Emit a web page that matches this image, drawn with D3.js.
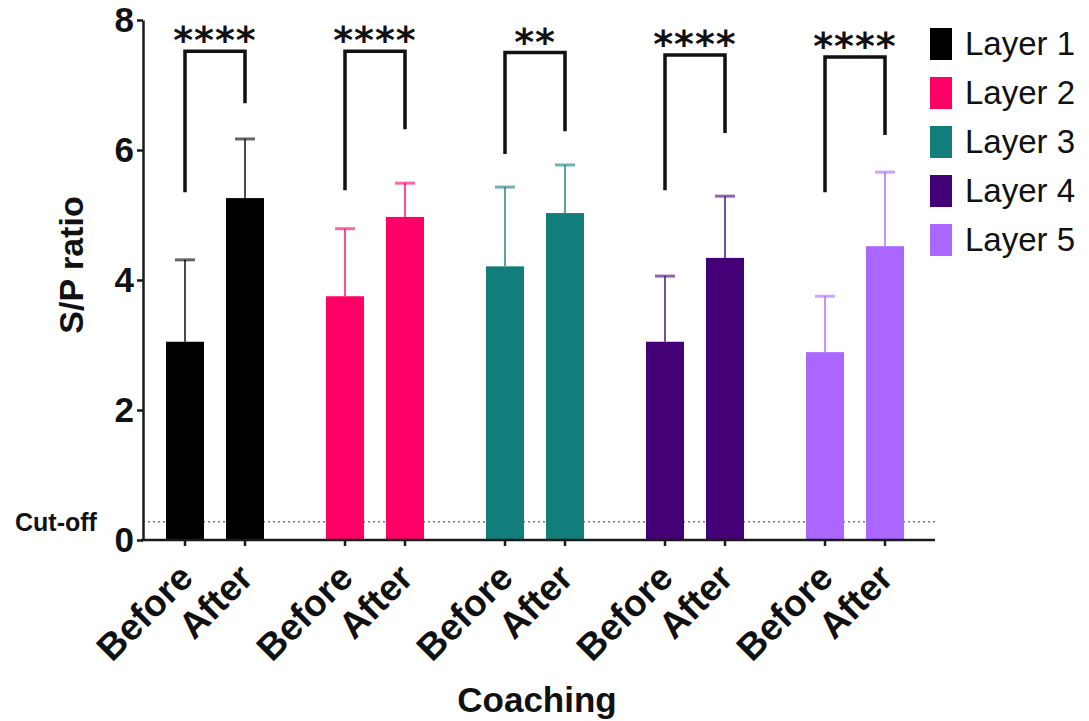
<!DOCTYPE html>
<html>
<head>
<meta charset="utf-8">
<script src="https://cdn.jsdelivr.net/npm/d3@7"></script>
<style>
  html, body { margin: 0; padding: 0; background: #fff; }
  svg { display: block; font-family: "Liberation Sans", Arial, Helvetica, sans-serif; }
</style>
</head>
<body>
<svg id="chart" width="1089" height="721"></svg>
<script>
// Layers and the two coaching phases
const layers = ["Layer 1", "Layer 2", "Layer 3", "Layer 4", "Layer 5"];
const phases = ["Before", "After"];
const layerColors = ["#000000", "#ff0066", "#127e7b", "#440077", "#aa66ff"];

// Mean S/P ratio per layer
const beforeMean = [3.05, 3.75, 4.21, 3.05, 2.89];
const afterMean  = [5.26, 4.97, 5.03, 4.34, 4.52];
// Mean + SD (top of error bar)
const beforeUpper = [4.31, 4.79, 5.43, 4.06, 3.75];
const afterUpper  = [6.17, 5.49, 5.77, 5.29, 5.66];

// Significance brackets (levels in S/P units)
const bracketTop   = [7.52, 7.52, 7.50, 7.46, 7.43];
const bracketLeft  = [5.35, 5.38, 5.94, 5.38, 5.35];
const bracketRight = [6.72, 6.32, 6.29, 6.26, 6.23];
const stars = ["****", "****", "**", "****", "****"];

const cutoff = 0.28;
const yTicks = [0, 2, 4, 6, 8];

const svg = d3.select("#chart");

const x = d3.scaleBand().domain(layers).range([135, 935]).paddingInner(0).paddingOuter(0);
const xInner = d3.scalePoint().domain(phases).range([-30, 30]);
const y = d3.scaleLinear().domain([0, 8]).range([540, 20]);

const barW = 38;
const axisColor = "#1a1a1a";

const bars = [];
layers.forEach((l, i) => {
  bars.push({ layer: l, phase: "Before", i, mean: beforeMean[i], upper: beforeUpper[i] });
  bars.push({ layer: l, phase: "After", i, mean: afterMean[i], upper: afterUpper[i] });
});
const cx = d => x(d.layer) + x.bandwidth() / 2 + xInner(d.phase);

// Cut-off reference line
svg.append("line")
  .attr("x1", 143).attr("x2", 935)
  .attr("y1", y(cutoff)).attr("y2", y(cutoff))
  .attr("stroke", "#777").attr("stroke-width", 1.6)
  .attr("stroke-dasharray", "2,3");

svg.append("text")
  .attr("x", 15).attr("y", y(cutoff) + 9)
  .attr("font-size", 25).attr("font-weight", "bold")
  .attr("fill", "#111")
  .text("Cut-off");

// Error bars (upper only)
const eb = svg.append("g");
eb.selectAll("line.stem").data(bars).join("line")
  .attr("class", "stem")
  .attr("x1", cx).attr("x2", cx)
  .attr("y1", d => y(d.mean)).attr("y2", d => y(d.upper))
  .attr("stroke", d => layerColors[d.i])
  .attr("stroke-opacity", 0.7)
  .attr("stroke-width", 2);
eb.selectAll("line.cap").data(bars).join("line")
  .attr("class", "cap")
  .attr("x1", d => cx(d) - 10).attr("x2", d => cx(d) + 10)
  .attr("y1", d => y(d.upper)).attr("y2", d => y(d.upper))
  .attr("stroke", d => layerColors[d.i])
  .attr("stroke-opacity", 0.6)
  .attr("stroke-width", 3);

// Bars
svg.append("g").selectAll("rect").data(bars).join("rect")
  .attr("x", d => cx(d) - barW / 2)
  .attr("width", barW)
  .attr("y", d => y(d.mean))
  .attr("height", d => y(0) - y(d.mean))
  .attr("fill", d => layerColors[d.i]);

// Y axis
const yAxis = svg.append("g")
  .attr("transform", "translate(143,0)")
  .call(d3.axisLeft(y).tickValues(yTicks).tickSize(6).tickSizeOuter(0).tickPadding(3).tickFormat(d3.format("d")));
yAxis.select(".domain").attr("stroke", axisColor).attr("stroke-width", 2.5);
yAxis.selectAll(".tick line").attr("stroke", axisColor).attr("stroke-width", 2.5);
yAxis.selectAll(".tick text")
  .attr("font-size", 35).attr("font-weight", "bold")
  .attr("font-family", "Liberation Sans, Arial, sans-serif")
  .attr("fill", "#111");

// X axis baseline with ticks at each bar
svg.append("line")
  .attr("x1", 141).attr("x2", 935)
  .attr("y1", y(0)).attr("y2", y(0))
  .attr("stroke", axisColor).attr("stroke-width", 2.5);
svg.append("g").selectAll("line").data(bars).join("line")
  .attr("x1", cx).attr("x2", cx)
  .attr("y1", y(0)).attr("y2", y(0) + 6)
  .attr("stroke", axisColor).attr("stroke-width", 2.5);

// Rotated phase labels
svg.append("g").selectAll("text").data(bars).join("text")
  .attr("transform", d => `translate(${cx(d) + 10},580) rotate(-45)`)
  .attr("text-anchor", "end")
  .attr("font-size", 37).attr("font-weight", "bold")
  .attr("fill", "#111")
  .text(d => d.phase);

// Axis titles
svg.append("text")
  .attr("x", 537).attr("y", 712)
  .attr("text-anchor", "middle")
  .attr("font-size", 35).attr("font-weight", "bold")
  .attr("fill", "#111")
  .text("Coaching");

svg.append("text")
  .attr("transform", "translate(83,265) rotate(-90)")
  .attr("text-anchor", "middle")
  .attr("font-size", 34).attr("font-weight", "bold")
  .attr("fill", "#111")
  .text("S/P ratio");

// Significance brackets
const br = svg.append("g");
layers.forEach((l, i) => {
  const xl = x(l) + x.bandwidth() / 2 + xInner("Before");
  const xr = x(l) + x.bandwidth() / 2 + xInner("After");
  br.append("path")
    .attr("d", `M${xl},${y(bracketLeft[i])}V${y(bracketTop[i])}H${xr}V${y(bracketRight[i])}`)
    .attr("fill", "none")
    .attr("stroke", "#111")
    .attr("stroke-width", 3.5);
  br.append("text")
    .attr("x", (xl + xr) / 2).attr("y", y(bracketTop[i]) + 2)
    .attr("text-anchor", "middle")
    .attr("font-family", "DejaVu Sans, sans-serif")
    .attr("font-size", 38).attr("font-weight", "bold")
    .attr("letter-spacing", 1)
    .attr("fill", "#111")
    .text(stars[i]);
});

// Legend
const lg = svg.append("g");
layers.forEach((l, i) => {
  lg.append("rect")
    .attr("x", 930).attr("y", 28 + 49 * i)
    .attr("width", 22).attr("height", 32)
    .attr("fill", layerColors[i]);
  lg.append("text")
    .attr("x", 965).attr("y", 55 + 49 * i)
    .attr("font-size", 33)
    .attr("fill", "#111")
    .text(l);
});
</script>
</body>
</html>
